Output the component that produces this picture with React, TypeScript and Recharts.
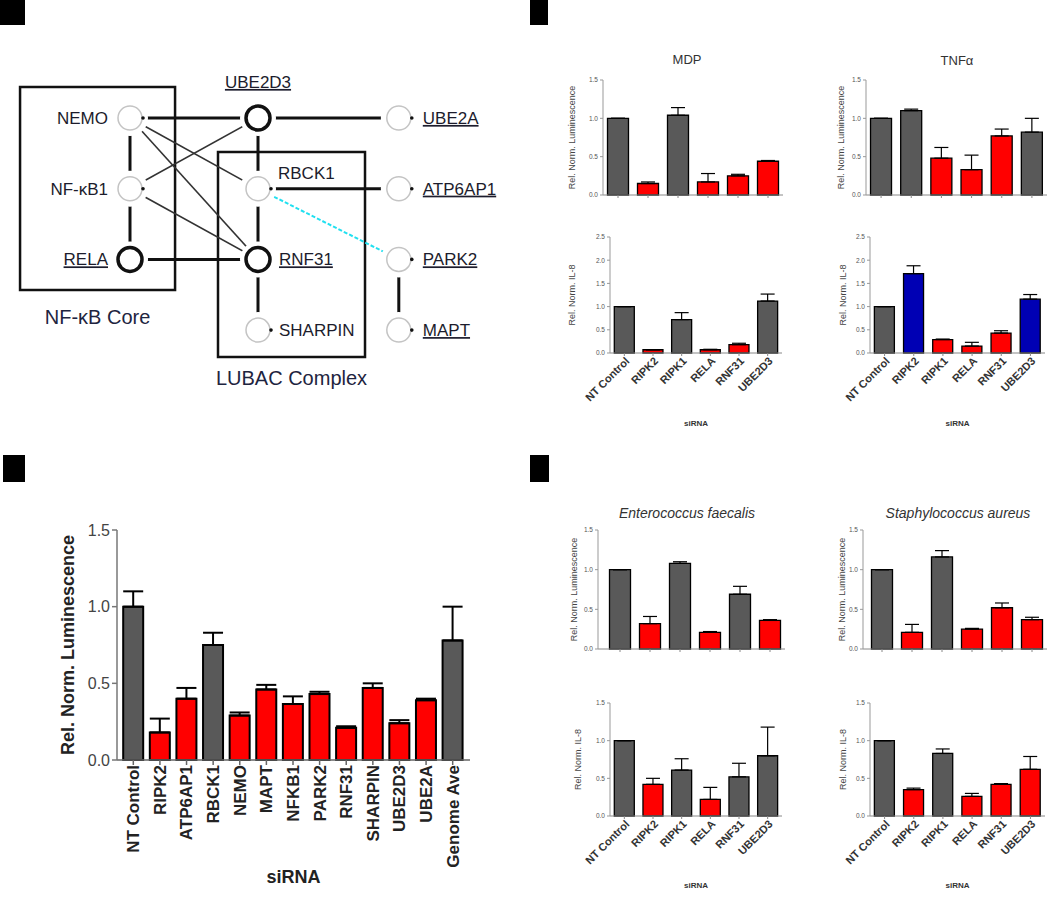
import React from "react";
import { BarChart, Bar, XAxis, YAxis, ErrorBar, Cell, ScatterChart, Scatter, ReferenceArea } from "recharts";

const FONT = "'Liberation Sans', Arial, Helvetica, sans-serif";
const FILL: Record<string, string> = { g: "#595959", r: "#ff0000", b: "#0000b4" };

// ---- panel A: network ----
const NODE_NAMES = ["NEMO", "NF-κB1", "RELA", "UBE2D3", "RBCK1", "RNF31", "SHARPIN", "UBE2A", "ATP6AP1", "PARK2", "MAPT"];
const NODE_COL = [0, 0, 0, 1, 1, 1, 1, 2.1, 2.1, 2.1, 2.1];
const NODE_ROW = [0, 1, 2, 0, 1, 2, 3, 0, 1, 2, 3];
const NODE_HIT = [false, false, true, true, false, true, false, false, false, false, false];
const NODE_UNDERLINE = [false, false, true, true, false, true, false, true, true, true, true];
const NODE_SIDE = ["left", "left", "left", "top", "topright", "right", "right", "right", "right", "right", "right"];
const EDGES: [string, string, string][] = [
  ["NEMO", "UBE2D3", "strong"], ["UBE2D3", "UBE2A", "strong"], ["NEMO", "NF-κB1", "strong"],
  ["NF-κB1", "RELA", "strong"], ["UBE2D3", "RBCK1", "strong"], ["RBCK1", "RNF31", "strong"],
  ["RNF31", "SHARPIN", "strong"], ["PARK2", "MAPT", "strong"], ["RELA", "RNF31", "strong"],
  ["RBCK1", "ATP6AP1", "strong"],
  ["NEMO", "RBCK1", "weak"], ["NEMO", "RNF31", "weak"], ["NF-κB1", "UBE2D3", "weak"], ["NF-κB1", "RNF31", "weak"],
  ["RBCK1", "PARK2", "predicted"],
];

// ---- panel C ----
const C_LABELS = ["NT Control", "RIPK2", "ATP6AP1", "RBCK1", "NEMO", "MAPT", "NFKB1", "PARK2", "RNF31", "SHARPIN", "UBE2D3", "UBE2A", "Genome Ave"];
const C_VALUES = [1.0, 0.18, 0.4, 0.75, 0.29, 0.46, 0.365, 0.43, 0.21, 0.47, 0.24, 0.39, 0.78];
const C_ERRORS = [0.1, 0.09, 0.07, 0.08, 0.02, 0.03, 0.05, 0.015, 0.01, 0.03, 0.02, 0.01, 0.22];
const C_GROUPS = "grrgrrrrrrrrg";

// ---- panels B and D ----
const SIRNA = ["NT Control", "RIPK2", "RIPK1", "RELA", "RNF31", "UBE2D3"];
const MDP_LUM = [1.0, 0.15, 1.04, 0.17, 0.25, 0.44];
const MDP_LUM_ERR = [0, 0.02, 0.1, 0.11, 0.02, 0.01];
const MDP_LUM_GRP = "grgrrr";
const TNF_LUM = [1.0, 1.1, 0.48, 0.33, 0.77, 0.82];
const TNF_LUM_ERR = [0, 0.02, 0.14, 0.19, 0.09, 0.18];
const TNF_LUM_GRP = "ggrrrg";
const MDP_IL8 = [1.0, 0.07, 0.72, 0.07, 0.18, 1.12];
const MDP_IL8_ERR = [0, 0, 0.15, 0.01, 0.03, 0.15];
const MDP_IL8_GRP = "grgrrg";
const TNF_IL8 = [1.0, 1.71, 0.29, 0.15, 0.43, 1.16];
const TNF_IL8_ERR = [0, 0.17, 0.01, 0.08, 0.05, 0.1];
const TNF_IL8_GRP = "gbrrrb";
const EF_LUM = [1.0, 0.32, 1.08, 0.21, 0.69, 0.36];
const EF_LUM_ERR = [0, 0.09, 0.02, 0.01, 0.1, 0.01];
const EF_LUM_GRP = "grgrgr";
const SA_LUM = [1.0, 0.21, 1.16, 0.25, 0.52, 0.37];
const SA_LUM_ERR = [0, 0.1, 0.08, 0.01, 0.06, 0.03];
const SA_LUM_GRP = "grgrrr";
const EF_IL8 = [1.0, 0.42, 0.61, 0.22, 0.52, 0.8];
const EF_IL8_ERR = [0, 0.08, 0.15, 0.16, 0.18, 0.38];
const EF_IL8_GRP = "grgrgg";
const SA_IL8 = [1.0, 0.35, 0.83, 0.26, 0.42, 0.62];
const SA_IL8_ERR = [0, 0.02, 0.06, 0.04, 0.01, 0.17];
const SA_IL8_GRP = "grgrrr";

const EmptyTick = () => <g />;

function NodeShape(props: any) {
  const { cx, cy, payload } = props;
  const side = payload.side;
  let lx = cx + 21, ly = cy, anchor: any = "start";
  if (side === "left") { lx = cx - 22; anchor = "end"; }
  if (side === "top") { lx = cx; ly = cy - 36; anchor = "middle"; }
  if (side === "topright") { lx = cx + 20; ly = cy - 16; }
  if (payload.col > 2) lx = cx + 24;
  return (
    <g>
      <circle cx={cx} cy={cy} r={18} fill="#fff" />
      <circle cx={cx} cy={cy} r={12} fill="#fff" stroke={payload.hit ? "#111" : "#c4c4c4"} strokeWidth={payload.hit ? 3.5 : 1.5} />
      {!payload.hit && <circle cx={cx + 13} cy={cy} r={1.8} fill="#111" />}
      <text x={lx} y={ly} dy="0.35em" textAnchor={anchor} fontSize={17} fill="#1c1c2c" fontFamily={FONT}
        style={payload.underline ? { textDecoration: "underline", textDecorationThickness: "2px" } : undefined}>
        {payload.name}
      </text>
    </g>
  );
}

function Network() {
  const nodes = NODE_NAMES.map((name, i) => ({ name, x: NODE_COL[i], y: NODE_ROW[i], col: NODE_COL[i], hit: NODE_HIT[i], underline: NODE_UNDERLINE[i], side: NODE_SIDE[i] }));
  const byName = (n: string) => nodes.find((d) => d.name === n)!;
  const edgeStyle: Record<string, any> = {
    strong: { stroke: "#111", strokeWidth: 3 },
    weak: { stroke: "#333", strokeWidth: 1.6 },
    predicted: { stroke: "#22e0f0", strokeWidth: 2, strokeDasharray: "4 2" },
  };
  return (
    <div style={{ position: "absolute", left: 0, top: 0 }}>
      <ScatterChart width={520} height={400} margin={{ top: 0, right: 0, bottom: 0, left: 0 }}>
        <XAxis type="number" dataKey="x" hide domain={[-130 / 128, 390 / 128]} allowDataOverflow />
        <YAxis type="number" dataKey="y" hide reversed domain={[-118 / 70.7, 282 / 70.7]} allowDataOverflow />
        <ReferenceArea x1={-0.859} x2={0.352} y1={-0.438} y2={2.433} fill="none" stroke="#111" strokeWidth={2.5}
          label={{ value: "NF-κB Core", position: "bottom", offset: 20, fontSize: 20, fill: "#1e2440", fontFamily: FONT }} />
        <ReferenceArea x1={0.6875} x2={1.836} y1={0.481} y2={3.38} fill="none" stroke="#111" strokeWidth={2.5}
          label={{ value: "LUBAC Complex", position: "bottom", offset: 14, fontSize: 20, fill: "#1e2440", fontFamily: FONT }} />
        {EDGES.map(([a, b, kind], i) => (
          <Scatter key={i} data={[byName(a), byName(b)]} line={edgeStyle[kind]} shape={EmptyTick} isAnimationActive={false} legendType="none" />
        ))}
        <Scatter data={nodes} shape={NodeShape} isAnimationActive={false} legendType="none" />
      </ScatterChart>
    </div>
  );
}

function PanelC() {
  const rows = C_LABELS.map((name, i) => ({ name, value: C_VALUES[i], err: [0, C_ERRORS[i]] }));
  const l = 117, t = 30, r = 20, b = 137;
  const plotW = 470 - 117, plotH = 760 - 530;
  const VTick = ({ x, y, payload }: any) => (
    <text transform={`translate(${x},${y - 2}) rotate(-90)`} dy="0.35em" textAnchor="end" fontSize={17} fontWeight="bold" fill="#222" fontFamily={FONT}>{payload.value}</text>
  );
  return (
    <div style={{ position: "absolute", left: 0, top: 500 }}>
      <BarChart width={l + plotW + r} height={t + plotH + b} data={rows} margin={{ top: t, right: r, left: 0, bottom: 0 }} barCategoryGap="12%">
        <XAxis dataKey="name" height={b} interval={0} tick={VTick} tickSize={5} stroke="#666" strokeWidth={1.5} padding={{ left: 3, right: 4 }}
          label={() => <text x={l + plotW / 2} y={plotH + t + 117} dy="0.35em" textAnchor="middle" fontSize={18} fontWeight="bold" fill="#222" fontFamily={FONT}>siRNA</text>} />
        <YAxis width={l} domain={[0, 1.5]} ticks={[0, 0.5, 1, 1.5]} interval={0} tickFormatter={(v: number) => v.toFixed(1)} tickSize={5}
          stroke="#777" strokeWidth={1.5} tick={{ fontSize: 16, fill: "#444", fontFamily: FONT }}
          label={() => <text transform={`translate(68,${t + plotH / 2}) rotate(-90)`} dy="0.35em" textAnchor="middle" fontSize={18} fontWeight="bold" fill="#222" fontFamily={FONT}>Rel. Norm. Luminescence</text>} />
        <Bar dataKey="value" stroke="#000" strokeWidth={2} isAnimationActive={false}>
          {rows.map((_, i) => <Cell key={i} fill={FILL[C_GROUPS[i]]} />)}
          <ErrorBar dataKey="err" width={10} stroke="#000" strokeWidth={2} direction="y" />
        </Bar>
      </BarChart>
    </div>
  );
}

type SmallProps = {
  plot: [number, number, number, number];
  values: number[]; errors: number[]; groups: string;
  max: number; ticks: number[]; yTitle: string; yTitleX: number;
  labels?: boolean; xTitleY?: number; padL?: number;
};

function SmallChart(p: SmallProps) {
  const [x0, y0, x1, y1] = p.plot;
  const l = 50, t = 8, r = 6, b = p.labels ? 82 : 10;
  const plotW = x1 - x0, plotH = y1 - y0;
  const rows = SIRNA.map((name, i) => ({ name, value: p.values[i], err: [0, p.errors[i]] }));
  const DiagTick = ({ x, y, payload }: any) => (
    <text transform={`translate(${x + 3},${y + 1}) rotate(-45)`} dy="0.35em" textAnchor="end" fontSize={11} fontWeight="bold" fill="#333" fontFamily={FONT}>{payload.value}</text>
  );
  return (
    <div style={{ position: "absolute", left: x0 - l, top: y0 - t }}>
      <BarChart width={l + plotW + r} height={t + plotH + b} data={rows} margin={{ top: t, right: r, left: 0, bottom: 0 }} barCategoryGap="15%">
        <XAxis dataKey="name" height={b} interval={0} tick={p.labels ? DiagTick : EmptyTick} tickSize={3} stroke="#888" padding={{ left: p.padL ?? 0, right: 0 }}
          label={p.labels ? () => <text x={l + plotW / 2} y={(p.xTitleY ?? 0) - y0 + t} dy="0.35em" textAnchor="middle" fontSize={8} fontWeight="bold" fill="#333" fontFamily={FONT}>siRNA</text> : undefined} />
        <YAxis width={l} domain={[0, p.max]} ticks={p.ticks} interval={0} tickFormatter={(v: number) => v.toFixed(1)} tickSize={3} tickMargin={2}
          stroke="#999" tick={{ fontSize: 6.5, fill: "#555", fontFamily: FONT }}
          label={() => <text transform={`translate(${p.yTitleX - x0 + l},${t + plotH / 2}) rotate(-90)`} dy="0.35em" textAnchor="middle" fontSize={9} fill="#444" fontFamily={FONT}>{p.yTitle}</text>} />
        <Bar dataKey="value" stroke="#000" strokeWidth={1.3} isAnimationActive={false}>
          {rows.map((_, i) => <Cell key={i} fill={FILL[p.groups[i]]} />)}
          <ErrorBar dataKey="err" width={7} stroke="#000" strokeWidth={1.2} direction="y" />
        </Bar>
      </BarChart>
    </div>
  );
}

function Title({ x, y, text, italic }: { x: number; y: number; text: string; italic?: boolean }) {
  return (
    <div style={{ position: "absolute", left: x - 120, top: y - 8, width: 240, textAlign: "center", fontSize: italic ? 14 : 13, lineHeight: "16px", fontStyle: italic ? "italic" : "normal", color: "#333", fontFamily: FONT }}>
      {text}
    </div>
  );
}

const Square = ({ x, y, w, h }: { x: number; y: number; w: number; h: number }) => (
  <div style={{ position: "absolute", left: x, top: y, width: w, height: h, background: "#000" }} />
);

const LUM = "Rel. Norm. Luminescence";
const IL8 = "Rel. Norm. IL-8";
const T15 = [0, 0.5, 1, 1.5];
const T25 = [0, 0.5, 1, 1.5, 2, 2.5];

export default function App() {
  return (
    <div style={{ position: "absolute", left: 0, top: 0, width: 1050, height: 897, background: "#fff", overflow: "hidden", fontFamily: FONT }}>
      <Square x={0} y={0} w={25} h={25} />
      <Square x={530} y={0} w={18} h={25} />
      <Square x={3} y={455} w={22} h={27} />
      <Square x={530} y={455} w={19} h={27} />

      <Network />
      <PanelC />

      <Title x={687} y={60} text="MDP" />
      <Title x={957} y={61} text="TNFα" />
      <SmallChart plot={[603, 80, 783, 195]} values={MDP_LUM} errors={MDP_LUM_ERR} groups={MDP_LUM_GRP} max={1.5} ticks={T15} yTitle={LUM} yTitleX={572} />
      <SmallChart plot={[866, 80, 1047, 195]} values={TNF_LUM} errors={TNF_LUM_ERR} groups={TNF_LUM_GRP} max={1.5} ticks={T15} yTitle={LUM} yTitleX={841} />
      <SmallChart plot={[610, 237, 782, 353]} values={MDP_IL8} errors={MDP_IL8_ERR} groups={MDP_IL8_GRP} max={2.5} ticks={T25} yTitle={IL8} yTitleX={572} labels xTitleY={423} />
      <SmallChart plot={[870, 237, 1045, 353]} values={TNF_IL8} errors={TNF_IL8_ERR} groups={TNF_IL8_GRP} max={2.5} ticks={T25} yTitle={IL8} yTitleX={843} labels xTitleY={423} />

      <Title x={687} y={513} text="Enterococcus faecalis" italic />
      <Title x={958} y={513} text="Staphylococcus aureus" italic />
      <SmallChart plot={[598, 530, 785, 649]} values={EF_LUM} errors={EF_LUM_ERR} groups={EF_LUM_GRP} max={1.5} ticks={T15} yTitle={LUM} yTitleX={574} padL={7} />
      <SmallChart plot={[863, 530, 1047, 649]} values={SA_LUM} errors={SA_LUM_ERR} groups={SA_LUM_GRP} max={1.5} ticks={T15} yTitle={LUM} yTitleX={842} padL={4} />
      <SmallChart plot={[610, 703, 782, 816]} values={EF_IL8} errors={EF_IL8_ERR} groups={EF_IL8_GRP} max={1.5} ticks={T15} yTitle={IL8} yTitleX={578} labels xTitleY={885} />
      <SmallChart plot={[870, 703, 1045, 816]} values={SA_IL8} errors={SA_IL8_ERR} groups={SA_IL8_GRP} max={1.5} ticks={T15} yTitle={IL8} yTitleX={843} labels xTitleY={885} />
    </div>
  );
}
